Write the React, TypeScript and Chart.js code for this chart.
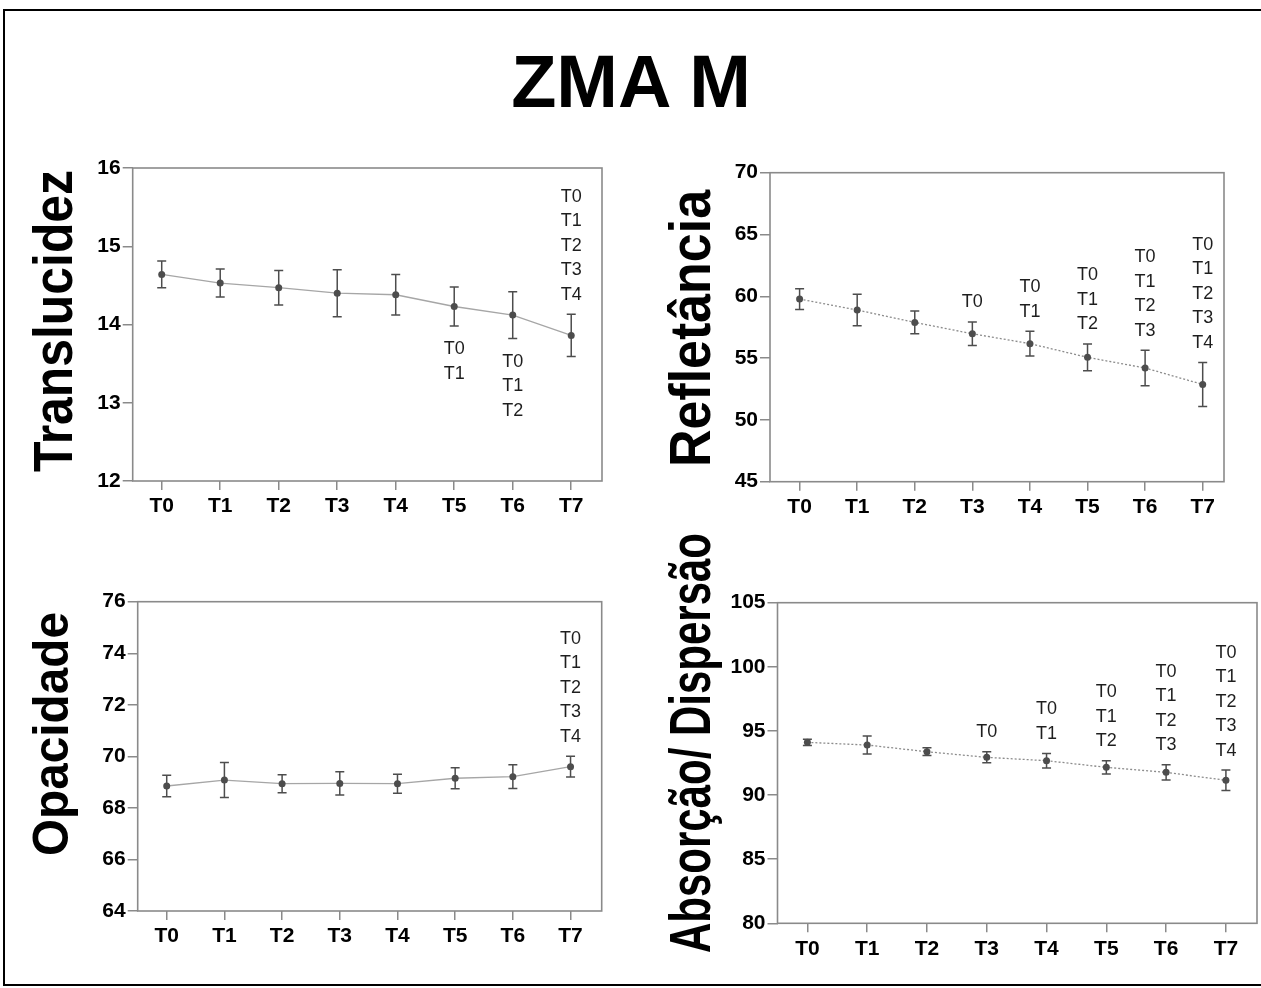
import React, { useEffect, useRef } from 'react';
import { Chart, registerables } from 'chart.js';

Chart.register(...registerables);

const FONT = '"Liberation Sans", Arial, Helvetica, sans-serif';

// Time points on the x axis
const TIMES = ['T0', 'T1', 'T2', 'T3', 'T4', 'T5', 'T6', 'T7'];

type Note = { at: number; side: 'above' | 'below'; lines: string[] };

// Translucidez: mean and half-width of the error bar at each time point
const TRANS_MEAN = [14.64, 14.53, 14.47, 14.4, 14.38, 14.23, 14.12, 13.86];
const TRANS_ERR = [0.17, 0.18, 0.22, 0.3, 0.26, 0.25, 0.3, 0.27];
const TRANS_Y = [12, 16, 1];
const TRANS_NOTES: Note[] = [
  { at: 5, side: 'below', lines: ['T0', 'T1'] },
  { at: 6, side: 'below', lines: ['T0', 'T1', 'T2'] },
  { at: 7, side: 'above', lines: ['T0', 'T1', 'T2', 'T3', 'T4'] },
];

// Refletância
const REFL_MEAN = [59.78, 58.89, 57.89, 56.97, 56.17, 55.06, 54.2, 52.87];
const REFL_ERR = [0.84, 1.27, 0.93, 0.95, 1.0, 1.08, 1.44, 1.78];
const REFL_Y = [45, 70, 5];
const REFL_NOTES: Note[] = [
  { at: 3, side: 'above', lines: ['T0'] },
  { at: 4, side: 'above', lines: ['T0', 'T1'] },
  { at: 5, side: 'above', lines: ['T0', 'T1', 'T2'] },
  { at: 6, side: 'above', lines: ['T0', 'T1', 'T2', 'T3'] },
  { at: 7, side: 'above', lines: ['T0', 'T1', 'T2', 'T3', 'T4'] },
];

// Opacidade
const OPAC_MEAN = [68.85, 69.08, 68.94, 68.95, 68.94, 69.15, 69.21, 69.6];
const OPAC_ERR = [0.42, 0.68, 0.35, 0.45, 0.37, 0.41, 0.46, 0.4];
const OPAC_Y = [64, 76, 2];
const OPAC_NOTES: Note[] = [
  { at: 7, side: 'above', lines: ['T0', 'T1', 'T2', 'T3', 'T4'] },
];

// Absorção/ Dispersão
const ABS_MEAN = [94.11, 93.9, 93.38, 92.94, 92.68, 92.16, 91.77, 91.15];
const ABS_ERR = [0.25, 0.7, 0.3, 0.43, 0.57, 0.52, 0.6, 0.8];
const ABS_Y = [80, 105, 5];
const ABS_NOTES: Note[] = [
  { at: 3, side: 'above', lines: ['T0'] },
  { at: 4, side: 'above', lines: ['T0', 'T1'] },
  { at: 5, side: 'above', lines: ['T0', 'T1', 'T2'] },
  { at: 6, side: 'above', lines: ['T0', 'T1', 'T2', 'T3'] },
  { at: 7, side: 'above', lines: ['T0', 'T1', 'T2', 'T3', 'T4'] },
];

type PanelSpec = {
  title: string;
  mean: number[];
  err: number[];
  yRange: number[];
  notes: Note[];
  dashed: boolean;
  area: { l: number; r: number; t: number; b: number };
  xMin: number;
  xMax: number;
  label: { size: number; length: number; baseX: number; midY: number };
};

const PANELS: PanelSpec[] = [
  {
    title: 'Translucidez', mean: TRANS_MEAN, err: TRANS_ERR, yRange: TRANS_Y, notes: TRANS_NOTES, dashed: false,
    area: { l: 132.7, r: 602, t: 168, b: 481 }, xMin: -0.496, xMax: 7.526,
    label: { size: 56, length: 302, baseX: 72, midY: 321 },
  },
  {
    title: 'Refletância', mean: REFL_MEAN, err: REFL_ERR, yRange: REFL_Y, notes: REFL_NOTES, dashed: true,
    area: { l: 770, r: 1224, t: 172.7, b: 481.7 }, xMin: -0.514, xMax: 7.37,
    label: { size: 58, length: 277, baseX: 710, midY: 328.5 },
  },
  {
    title: 'Opacidade', mean: OPAC_MEAN, err: OPAC_ERR, yRange: OPAC_Y, notes: OPAC_NOTES, dashed: false,
    area: { l: 137.7, r: 601.7, t: 601.7, b: 911 }, xMin: -0.503, xMax: 7.54,
    label: { size: 50, length: 244, baseX: 68, midY: 734 },
  },
  {
    title: 'Absorção/ Dispersão', mean: ABS_MEAN, err: ABS_ERR, yRange: ABS_Y, notes: ABS_NOTES, dashed: true,
    area: { l: 777.5, r: 1258, t: 602.7, b: 923.3 }, xMin: -0.5, xMax: 7.52,
    label: { size: 58, length: 420, baseX: 710, midY: 743 },
  },
];

const AXIS_GRAY = '#8a8a8a';
const MARK_GRAY = '#4d4d4d';

function PanelChart({ spec }: { spec: PanelSpec }) {
  const ref = useRef<HTMLCanvasElement>(null);
  const { area, label } = spec;
  const cl = Math.max(0, Math.floor(area.l) - 135);
  const ct = Math.floor(Math.min(area.t - 30, label.midY - label.length / 2 - 12));
  const cr = Math.min(1261, Math.ceil(area.r) + 10);
  const cb = Math.ceil(Math.max(area.b + 45, label.midY + label.length / 2 + 12));
  const w = cr - cl;
  const h = cb - ct;

  useEffect(() => {
    const canvas = ref.current;
    if (!canvas) return;

    // Outer frame of the plotting area
    const frame = {
      id: 'frame',
      beforeDatasetsDraw(chart: any) {
        const { ctx, chartArea: a } = chart;
        ctx.save();
        ctx.strokeStyle = AXIS_GRAY;
        ctx.lineWidth = 1.6;
        ctx.strokeRect(a.left, a.top, a.right - a.left, a.bottom - a.top);
        ctx.restore();
      },
    };

    // Vertical error bars with caps
    const errorBars = {
      id: 'errorBars',
      afterDatasetsDraw(chart: any) {
        const { ctx } = chart;
        const xs = chart.scales.x;
        const ys = chart.scales.y;
        ctx.save();
        ctx.strokeStyle = MARK_GRAY;
        ctx.lineWidth = 1.5;
        spec.mean.forEach((m, i) => {
          const px = xs.getPixelForValue(i);
          const hi = ys.getPixelForValue(m + spec.err[i]);
          const lo = ys.getPixelForValue(m - spec.err[i]);
          ctx.beginPath();
          ctx.moveTo(px, hi);
          ctx.lineTo(px, lo);
          ctx.moveTo(px - 4.5, hi);
          ctx.lineTo(px + 4.5, hi);
          ctx.moveTo(px - 4.5, lo);
          ctx.lineTo(px + 4.5, lo);
          ctx.stroke();
        });
        ctx.restore();
      },
    };

    // Lists of time points that differ significantly, stacked next to each bar
    const notes = {
      id: 'notes',
      afterDatasetsDraw(chart: any) {
        const { ctx } = chart;
        const xs = chart.scales.x;
        const ys = chart.scales.y;
        const lineH = 24.5;
        ctx.save();
        ctx.font = `18px ${FONT}`;
        ctx.fillStyle = '#1e1e1e';
        ctx.textAlign = 'center';
        ctx.textBaseline = 'middle';
        spec.notes.forEach((n) => {
          const px = xs.getPixelForValue(n.at);
          const m = spec.mean[n.at];
          const e = spec.err[n.at];
          const count = n.lines.length;
          if (n.side === 'above') {
            const start = ys.getPixelForValue(m + e) - 19.5;
            n.lines.forEach((t, k) => {
              ctx.fillText(t, px, start - (count - 1 - k) * lineH);
            });
          } else {
            const start = ys.getPixelForValue(m - e) + 23;
            n.lines.forEach((t, k) => {
              ctx.fillText(t, px, start + k * lineH);
            });
          }
        });
        ctx.restore();
      },
    };

    // Large rotated axis label, condensed to its set length
    const sideLabel = {
      id: 'sideLabel',
      afterDraw(chart: any) {
        const { ctx } = chart;
        ctx.save();
        ctx.font = `bold ${label.size}px ${FONT}`;
        const natural = ctx.measureText(spec.title).width;
        ctx.translate(label.baseX - cl, label.midY - ct);
        ctx.rotate(-Math.PI / 2);
        ctx.scale(label.length / natural, 1);
        ctx.fillStyle = '#000';
        ctx.textAlign = 'center';
        ctx.textBaseline = 'alphabetic';
        ctx.fillText(spec.title, 0, 0);
        ctx.restore();
      },
    };

    const tickFont = { family: FONT, size: 21, weight: 'bold' };

    const chart = new Chart(canvas, {
      type: 'line',
      data: {
        datasets: [
          {
            data: spec.mean.map((y, i) => ({ x: i, y })),
            borderColor: spec.dashed ? '#8c8c8c' : '#a6a6a6',
            borderWidth: 1.3,
            borderDash: spec.dashed ? [2, 2] : [],
            pointRadius: 3.5,
            pointBackgroundColor: MARK_GRAY,
            pointBorderWidth: 0,
            tension: 0,
            fill: false,
          },
        ],
      },
      options: {
        responsive: false,
        animation: false,
        devicePixelRatio: 1,
        events: [],
        layout: { padding: { left: 0, top: area.t - ct, right: cr - area.r, bottom: 0 } },
        plugins: { legend: { display: false }, tooltip: { enabled: false }, title: { display: false } },
        scales: {
          x: {
            type: 'linear',
            min: spec.xMin,
            max: spec.xMax,
            afterBuildTicks: (s: any) => {
              s.ticks = TIMES.map((_, i) => ({ value: i }));
            },
            afterFit: (s: any) => {
              s.height = cb - area.b;
            },
            grid: { drawOnChartArea: false, drawTicks: true, tickLength: 9, color: AXIS_GRAY, lineWidth: 1.5 },
            border: { display: false },
            ticks: {
              callback: (v: any) => TIMES[v] ?? '',
              font: tickFont,
              color: '#000',
              padding: 4,
              maxRotation: 0,
              autoSkip: false,
            },
          },
          y: {
            type: 'linear',
            min: spec.yRange[0],
            max: spec.yRange[1],
            afterFit: (s: any) => {
              s.width = area.l - cl;
            },
            grid: { drawOnChartArea: false, drawTicks: true, tickLength: 10, color: AXIS_GRAY, lineWidth: 1.5 },
            border: { display: false },
            ticks: {
              stepSize: spec.yRange[2],
              font: tickFont,
              color: '#000',
              padding: 2,
            },
          },
        },
      } as any,
      plugins: [frame, errorBars, notes, sideLabel],
    });
    return () => chart.destroy();
  }, []);

  return (
    <canvas
      ref={ref}
      width={w}
      height={h}
      style={{ position: 'absolute', left: cl, top: ct, width: w, height: h }}
    />
  );
}

export default function App() {
  return (
    <div
      style={{
        position: 'absolute',
        left: 0,
        top: 0,
        width: 1261,
        height: 988,
        overflow: 'hidden',
        background: '#fff',
        fontFamily: FONT,
      }}
    >
      <div
        style={{
          position: 'absolute',
          left: 3,
          top: 9,
          width: 1270,
          height: 977,
          border: '2px solid #000',
          boxSizing: 'border-box',
        }}
      />
      <div
        style={{
          position: 'absolute',
          left: 0,
          width: 1262,
          top: 45,
          textAlign: 'center',
          fontWeight: 'bold',
          fontSize: 74,
          lineHeight: '74px',
          color: '#000',
        }}
      >
        ZMA M
      </div>
      {PANELS.map((p) => (
        <PanelChart key={p.title} spec={p} />
      ))}
    </div>
  );
}
